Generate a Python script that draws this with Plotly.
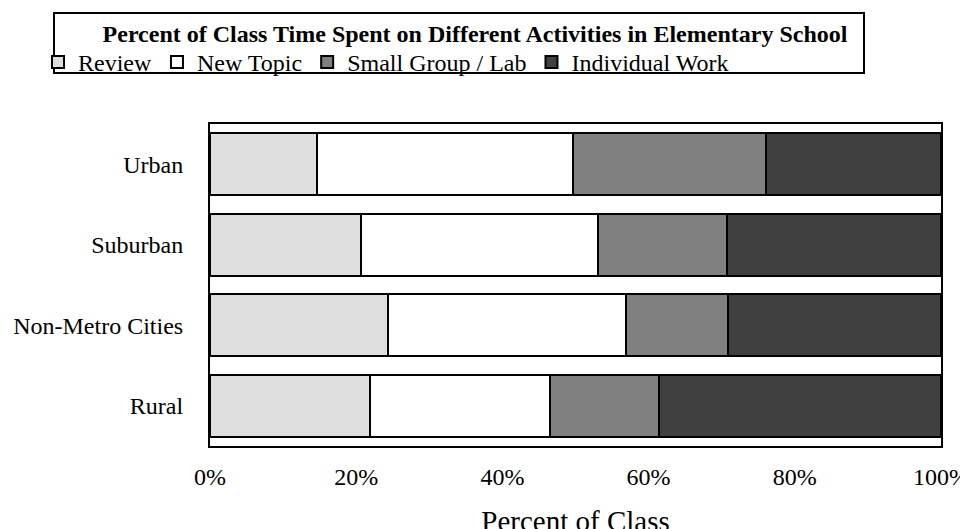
import plotly.graph_objects as go

regions = ["Urban", "Suburban", "Non-Metro Cities", "Rural"]
review = [14.6, 20.7, 24.4, 21.9]
new_topic = [35.1, 32.4, 32.5, 24.6]
small_group = [26.4, 17.6, 13.9, 14.9]
individual = [23.9, 29.3, 29.2, 38.6]

series = [
    ("Review", review, "#dedede"),
    ("New Topic", new_topic, "#ffffff"),
    ("Small Group / Lab", small_group, "#808080"),
    ("Individual Work", individual, "#404040"),
]

font = "Liberation Serif, Times New Roman, serif"

# plot area in pixels (used to place the header box)
L, R, T, B = 202, 933, 116, 438

fig = go.Figure()
for name, vals, color in series:
    fig.add_trace(go.Bar(
        y=regions, x=vals, name=name, orientation="h",
        marker=dict(color=color, line=dict(color="black", width=2)),
    ))

fig.update_layout(
    barmode="stack",
    bargap=0.23,
    width=968, height=529,
    margin=dict(l=L, r=968 - R, t=T, b=529 - B),
    plot_bgcolor="white", paper_bgcolor="white",
    font=dict(family=font, size=24, color="black"),
    title=dict(
        text="<b>Percent of Class Time Spent on Different Activities in Elementary School</b>",
        x=467 / 968, xref="container", xanchor="center",
        y=1 - 26 / 529, yref="container", yanchor="middle",
        font=dict(family=font, size=24, color="black"),
    ),
    legend=dict(
        orientation="h", traceorder="normal",
        x=30 / 968, xref="container", xanchor="left",
        y=1 - 32 / 529, yref="container", yanchor="top",
        font=dict(family=font, size=24, color="black"),
        bgcolor="rgba(0,0,0,0)",
    ),
    shapes=[dict(
        type="rect", xref="paper", yref="paper",
        x0=(46 - L) / (R - L), x1=(856 - L) / (R - L),
        y0=1 + (T - 65) / (B - T), y1=1 + (T - 5) / (B - T),
        line=dict(color="black", width=2), fillcolor="rgba(0,0,0,0)",
    )],
)

fig.update_xaxes(
    range=[0, 100], tickvals=[0, 20, 40, 60, 80, 100],
    ticktext=["0%", "20%", "40%", "60%", "80%", "100%"],
    showgrid=False, zeroline=False, automargin=False,
    showline=True, mirror=True, linecolor="black", linewidth=2,
    ticks="", ticklabelstandoff=8,
    title=dict(text="Percent of Class", standoff=30),
)
fig.update_yaxes(
    autorange="reversed", showgrid=False, automargin=False,
    showline=True, mirror=True, linecolor="black", linewidth=2,
    ticks="", ticklabelstandoff=20,
)

fig.write_html("out.html")
